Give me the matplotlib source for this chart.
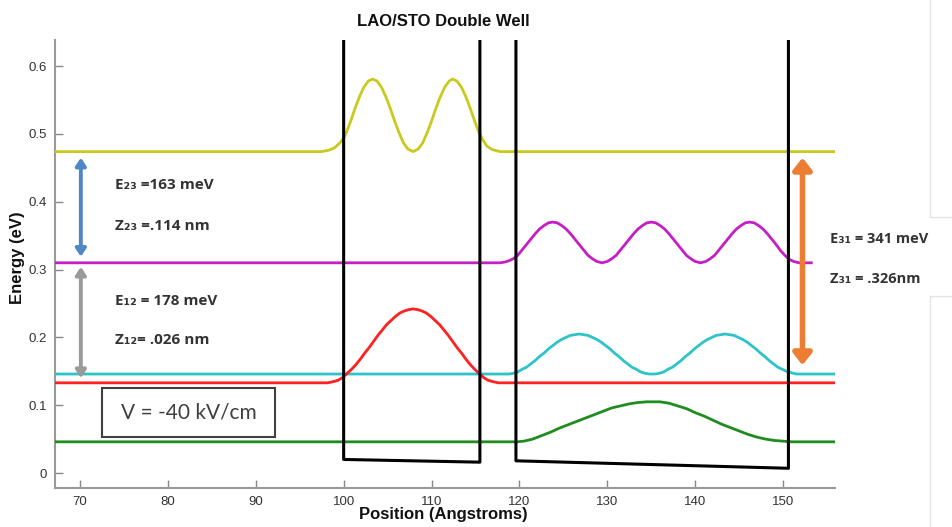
import numpy as np
import matplotlib
matplotlib.use("Agg")
import matplotlib.pyplot as plt
from matplotlib.patches import Rectangle
from matplotlib.lines import Line2D

# ---- data ----
# conduction band profile (walls + tilted well bottoms), top value sits above the view
pot_x = [67.2, 100.0, 100.0, 115.5, 115.5, 119.6, 119.6, 150.6, 150.6, 156.0]
pot_y = [1.0, 1.0, 0.020, 0.016, 1.0, 1.0, 0.018, 0.007, 1.0, 1.0]

# |psi|^2 curves offset at their energy level (eV)
yel_x = [67.2, 97.5, 98.3, 99.0, 99.5, 100.0, 100.3, 100.8, 101.3, 101.8, 102.3, 102.8, 103.3,
         103.8, 104.3, 104.8, 105.3, 105.8, 106.3, 106.8, 107.3, 107.9, 108.5, 109.0, 109.5,
         110.0, 110.5, 111.0, 111.5, 112.0, 112.4, 112.9, 113.4, 113.9, 114.4, 114.9, 115.4,
         115.8, 116.3, 116.9, 117.8, 156.0]
yel_y = [0.474, 0.474, 0.476, 0.480, 0.486, 0.494, 0.502, 0.519, 0.538, 0.555, 0.569, 0.578, 0.581,
         0.578, 0.569, 0.555, 0.538, 0.519, 0.502, 0.487, 0.478, 0.474, 0.478, 0.487, 0.502,
         0.519, 0.538, 0.555, 0.569, 0.578, 0.581, 0.578, 0.569, 0.555, 0.538, 0.519, 0.502,
         0.492, 0.482, 0.477, 0.474, 0.474]

mag_x = [67.2, 117.8, 118.3, 118.8, 119.3, 119.8, 120.3, 120.8, 121.3, 121.8, 122.3, 122.8, 123.3,
         123.8, 124.3, 124.8, 125.3, 125.8, 126.3, 126.8, 127.3, 127.8, 128.3, 128.8, 129.4,
         130.0, 130.5, 131.0, 131.5, 132.0, 132.5, 133.0, 133.5, 134.0, 134.5, 135.0, 135.5,
         136.0, 136.5, 137.0, 137.5, 138.0, 138.5, 139.0, 139.5, 140.0, 140.6, 141.2, 141.7,
         142.2, 142.7, 143.2, 143.7, 144.2, 144.7, 145.2, 145.7, 146.2, 146.7, 147.2, 147.7,
         148.2, 148.7, 149.2, 149.7, 150.2, 150.7, 151.2, 151.8, 153.2]
mag_y = [0.310, 0.310, 0.311, 0.313, 0.316, 0.321, 0.329, 0.337, 0.345, 0.353, 0.360, 0.365, 0.369,
         0.370, 0.369, 0.365, 0.360, 0.353, 0.345, 0.337, 0.329, 0.321, 0.316, 0.312, 0.310,
         0.312, 0.316, 0.321, 0.329, 0.337, 0.345, 0.353, 0.360, 0.365, 0.369, 0.370, 0.369,
         0.365, 0.360, 0.353, 0.345, 0.337, 0.329, 0.321, 0.316, 0.312, 0.310, 0.312, 0.316,
         0.321, 0.329, 0.337, 0.345, 0.353, 0.360, 0.365, 0.369, 0.370, 0.369, 0.365, 0.360,
         0.353, 0.345, 0.337, 0.328, 0.321, 0.315, 0.312, 0.310, 0.310]

cyan_x = [67.2, 118.8, 119.3, 119.8, 120.3, 120.8, 121.3, 121.8, 122.3, 122.8, 123.3, 123.8, 124.3,
          124.8, 125.3, 125.8, 126.3, 126.8, 127.3, 127.8, 128.3, 128.8, 129.3, 129.8, 130.3,
          130.8, 131.3, 131.8, 132.3, 132.8, 133.3, 133.8, 134.3, 134.8, 135.4, 135.9, 136.4,
          136.9, 137.4, 137.9, 138.4, 138.9, 139.4, 139.9, 140.4, 140.9, 141.4, 141.9, 142.4,
          142.9, 143.4, 143.9, 144.4, 144.9, 145.4, 145.9, 146.4, 146.9, 147.4, 147.9, 148.4,
          148.9, 149.4, 149.9, 150.4, 150.9, 151.5, 156.0]
cyan_y = [0.146, 0.146, 0.147, 0.149, 0.153, 0.156, 0.161, 0.166, 0.172, 0.177, 0.183, 0.188, 0.193,
          0.197, 0.200, 0.203, 0.204, 0.205, 0.204, 0.203, 0.200, 0.197, 0.193, 0.188, 0.183,
          0.177, 0.172, 0.166, 0.161, 0.156, 0.153, 0.149, 0.147, 0.146, 0.146, 0.147, 0.149,
          0.153, 0.156, 0.161, 0.166, 0.172, 0.177, 0.183, 0.188, 0.193, 0.197, 0.200, 0.203,
          0.204, 0.205, 0.204, 0.203, 0.200, 0.197, 0.193, 0.188, 0.183, 0.177, 0.172, 0.166,
          0.161, 0.156, 0.153, 0.150, 0.148, 0.146, 0.146]

red_x = [67.2, 97.5, 98.2, 98.9, 99.4, 99.9, 100.4, 100.9, 101.4, 101.9, 102.4, 102.9, 103.4,
         103.9, 104.4, 104.9, 105.4, 105.9, 106.4, 106.9, 107.4, 107.9, 108.4, 108.9, 109.4,
         109.9, 110.4, 110.9, 111.4, 111.9, 112.4, 112.9, 113.4, 113.9, 114.4, 114.9, 115.4,
         115.9, 116.4, 116.9, 117.6, 156.0]
red_y = [0.133, 0.133, 0.133, 0.135, 0.137, 0.141, 0.147, 0.153, 0.160, 0.168, 0.177, 0.185, 0.194,
         0.203, 0.211, 0.219, 0.225, 0.231, 0.236, 0.239, 0.241, 0.242, 0.241, 0.239, 0.236,
         0.231, 0.225, 0.219, 0.211, 0.203, 0.194, 0.185, 0.177, 0.168, 0.160, 0.153, 0.147,
         0.141, 0.137, 0.135, 0.133, 0.133]

grn_x = [67.2, 119.7, 120.5, 121.5, 122.5, 123.5, 124.5, 125.5, 126.5, 127.5, 128.5, 129.5, 130.5,
         131.5, 132.5, 133.5, 134.5, 135.2, 136.0, 137.0, 138.0, 139.0, 140.0, 141.0, 142.0,
         143.0, 144.0, 145.0, 146.0, 147.0, 148.0, 149.0, 150.0, 151.0, 156.0]
grn_y = [0.046, 0.046, 0.047, 0.050, 0.055, 0.060, 0.066, 0.071, 0.076, 0.081, 0.086, 0.091, 0.096,
         0.099, 0.102, 0.104, 0.105, 0.105, 0.105, 0.103, 0.099, 0.095, 0.089, 0.084, 0.078,
         0.072, 0.067, 0.062, 0.057, 0.053, 0.050, 0.048, 0.047, 0.046, 0.046]

curves = [
    (yel_x, yel_y, "#c9c91e"),
    (mag_x, mag_y, "#c41ec4"),
    (cyan_x, cyan_y, "#2cc3c9"),
    (red_x, red_y, "#ff2020"),
    (grn_x, grn_y, "#1f8c1f"),
]

# transition arrows: (x, y_start, y_end, colour)
arrows = [
    (70.1, 0.465, 0.319, "#4f86c6"),
    (70.1, 0.304, 0.140, "#9a9a9a"),
    (152.2, 0.465, 0.159, "#ed7d31"),
]

labels_left = [
    (74.0, 0.425, "E\u2082\u2083 =163 meV"),
    (74.0, 0.364, "Z\u2082\u2083 =.114 nm"),
    (74.0, 0.254, "E\u2081\u2082 = 178 meV"),
    (74.0, 0.196, "Z\u2081\u2082= .026 nm"),
]
labels_right = [
    (155.3, 0.345, "E\u2083\u2081 = 341 meV"),
    (155.3, 0.286, "Z\u2083\u2081 = .326nm"),
]

x_ticks = [70, 80, 90, 100, 110, 120, 130, 140, 150]
y_ticks = [0, 0.1, 0.2, 0.3, 0.4, 0.5, 0.6]
y_ticklabels = ["0", "0.1", "0.2", "0.3", "0.4", "0.5", "0.6"]

plt.rcParams["font.family"] = ["Liberation Sans", "DejaVu Sans"]

fig = plt.figure(figsize=(9.53, 5.27), dpi=100)
ax = fig.add_axes([55 / 953, 39 / 527, 780 / 953, 448 / 527])

for xs, ys, c in curves:
    ax.plot(xs, ys, color=c, lw=2.0, zorder=3, solid_joinstyle="round")

ax.plot(pot_x, pot_y, color="black", lw=2.2, zorder=4)

for x, y0, y1, c in arrows:
    big = c == "#ed7d31"
    style = ("<|-|>,head_length=0.7,head_width=0.55" if big
             else "<|-|>,head_length=0.45,head_width=0.3")
    ax.annotate("", xy=(x, y1), xytext=(x, y0),
                arrowprops=dict(arrowstyle=style, color=c, lw=4.0 if big else 2.8,
                                shrinkA=0, shrinkB=0, mutation_scale=10),
                zorder=5, annotation_clip=False)

txt_family = ["Open Sans", "DejaVu Sans"]
for x, y, s in labels_left:
    ax.text(x, y, s, fontsize=11, fontweight="bold", color="#333333",
            family=txt_family, va="center", ha="left")
for x, y, s in labels_right:
    ax.text(x, y, s, fontsize=10.5, fontweight="bold", color="#333333",
            family=txt_family, va="center", ha="left", clip_on=False)

# field box
ax.add_patch(Rectangle((72.5, 0.053), 19.7, 0.072, fill=False,
                       edgecolor="#404040", lw=1.5, zorder=5))
ax.text(82.35, 0.089, "V = -40 kV/cm", fontsize=15, color="#404040",
        family=["Lato", "DejaVu Sans"], ha="center", va="center", zorder=6)

ax.set_xlim(67.16, 155.9)
ax.set_ylim(-0.0221, 0.6386)
ax.set_xticks(x_ticks)
ax.set_yticks(y_ticks)
ax.set_yticklabels(y_ticklabels)
ax.tick_params(direction="in", length=6, width=1.0, color="#888888",
               labelsize=9.5, labelcolor="#333333", pad=6)
for side in ("top", "right"):
    ax.spines[side].set_visible(False)
for side in ("left", "bottom"):
    ax.spines[side].set_color("#999999")
    ax.spines[side].set_linewidth(1.5)

fig.text(443 / 953, 1 - 21 / 527, "LAO/STO Double Well", fontsize=12,
         fontweight="bold", ha="center", va="center", color="#111111")
fig.text(443 / 953, 1 - 515 / 527, "Position (Angstroms)", fontsize=12,
         fontweight="bold", ha="center", va="center", color="#111111")
fig.text(18 / 953, 1 - 258 / 527, "Energy (eV)", fontsize=12, rotation=90,
         fontweight="bold", ha="center", va="center", color="#111111")

# faint screenshot borders at the right edge
lc = "#e4e4e4"
fig.add_artist(Line2D([930 / 953, 930 / 953], [1, 1 - 217 / 527], color=lc, lw=1))
fig.add_artist(Line2D([930 / 953, 1], [1 - 217 / 527, 1 - 217 / 527], color=lc, lw=1))
fig.add_artist(Line2D([930 / 953, 1], [1 - 296 / 527, 1 - 296 / 527], color=lc, lw=1))
fig.add_artist(Line2D([930 / 953, 930 / 953], [1 - 296 / 527, 0], color=lc, lw=1))

fig.savefig("out.png", dpi=100)
